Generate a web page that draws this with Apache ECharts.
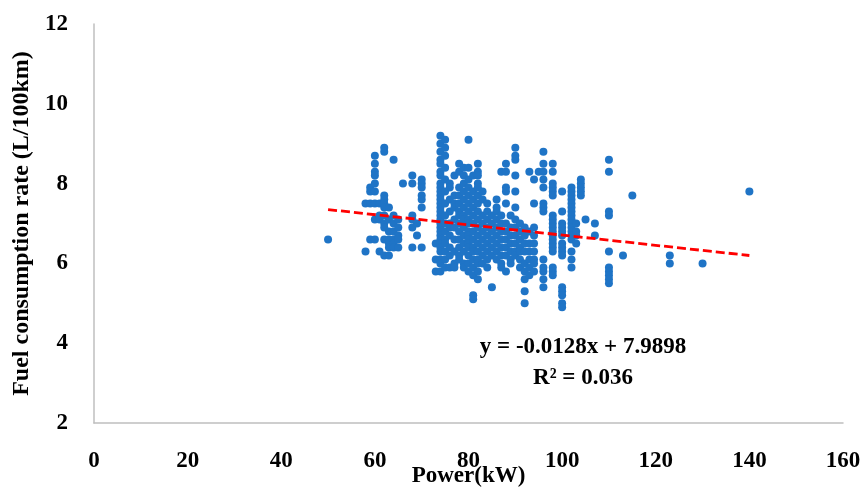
<!DOCTYPE html>
<html>
<head>
<meta charset="utf-8">
<script src="https://cdn.jsdelivr.net/npm/echarts@6/dist/echarts.min.js"></script>
<style>html,body{margin:0;padding:0;background:#fff}#chart{width:862px;height:487px}</style>
</head>
<body>
<div id="chart"></div>
<script>
// Power (kW) levels and the fuel consumption rates (L/100km) observed at each
const powerLevels = [50, 58, 59, 60, 61, 62, 63, 64, 65, 66, 68, 69, 70, 73, 74, 75, 76, 77, 78, 79, 80, 81, 82, 83, 84, 85, 86, 87, 88, 89, 90, 91, 92, 93, 94, 95, 96, 98, 100, 102, 103, 104, 105, 107, 110, 113, 115, 123, 130, 140];
const fuelByPower = [
  [6.6],
  [7.5, 6.3],
  [7.9, 7.8, 7.5, 6.6],
  [8.7, 8.5, 8.3, 8.2, 8.0, 7.8, 7.5, 7.1, 6.6],
  [7.5, 7.2, 7.1, 6.3],
  [8.9, 8.8, 7.7, 7.6, 7.5, 7.4, 7.2, 7.0, 6.9, 6.6, 6.2],
  [7.4, 7.1, 6.8, 6.6, 6.5, 6.4, 6.2],
  [8.6, 7.2, 7.0, 6.8, 6.6, 6.5, 6.4],
  [7.1, 6.9, 6.7, 6.6, 6.4],
  [8.0],
  [8.2, 8.0, 7.2, 7.1, 6.9, 6.4],
  [7.0, 6.7],
  [8.1, 8.0, 7.9, 7.7, 7.6, 7.4, 6.4],
  [6.5, 6.1, 5.8],
  [9.2, 9.0, 8.8, 8.6, 8.5, 8.3, 8.2, 8.0, 7.9, 7.8, 7.7, 7.6, 7.5, 7.4, 7.3, 7.2, 7.1, 7.0, 6.9, 6.8, 6.7, 6.6, 6.5, 6.4, 6.3, 6.1, 6.0, 5.8],
  [9.1, 8.9, 8.7, 8.4, 8.1, 7.8, 7.5, 7.2, 7.0, 6.8, 6.6, 6.5, 6.3, 6.1, 5.9],
  [8.0, 7.9, 7.6, 7.3, 7.0, 6.9, 6.7, 6.4, 6.2, 5.9],
  [8.2, 7.7, 7.5, 7.4, 7.1, 6.9, 6.6, 6.3, 6.0, 5.9],
  [8.5, 8.3, 7.9, 7.7, 7.5, 7.3, 7.2, 7.0, 6.8, 6.6, 6.4, 6.2, 6.1],
  [8.4, 8.2, 8.0, 7.8, 7.6, 7.4, 7.2, 7.1, 6.9, 6.7, 6.5, 6.3, 6.0, 5.9],
  [9.1, 8.4, 8.1, 7.9, 7.7, 7.5, 7.3, 7.1, 7.0, 6.8, 6.7, 6.6, 6.5, 6.4, 6.2, 6.0, 5.8],
  [8.2, 7.8, 7.6, 7.4, 7.2, 7.0, 6.8, 6.6, 6.4, 6.3, 6.1, 5.9, 5.7, 5.2, 5.1],
  [8.5, 8.3, 8.2, 8.0, 7.9, 7.7, 7.5, 7.3, 7.1, 6.9, 6.7, 6.5, 6.3, 6.1, 6.0, 5.8, 5.6],
  [7.8, 7.6, 7.2, 7.0, 6.8, 6.6, 6.4, 6.2, 6.0],
  [7.5, 7.3, 7.1, 6.9, 6.7, 6.5, 6.3, 6.1, 5.9],
  [7.2, 7.0, 6.8, 6.6, 6.4, 6.2, 5.4],
  [7.6, 7.4, 7.3, 7.1, 6.9, 6.7, 6.5, 6.3, 6.1],
  [8.3, 7.2, 7.0, 6.8, 6.6, 6.4, 6.2, 6.0, 5.9],
  [8.5, 8.3, 7.9, 7.8, 7.5, 7.0, 6.8, 6.6, 6.4, 6.2, 5.8],
  [7.2, 6.9, 6.7, 6.5, 6.3, 6.1, 6.0],
  [8.9, 8.7, 8.6, 8.2, 7.8, 7.4, 7.1, 6.9, 6.7, 6.5, 6.3, 6.2],
  [7.0, 6.8, 6.6, 6.4, 6.3, 6.1, 5.9],
  [6.9, 6.7, 6.5, 6.3, 6.0, 5.8, 5.6, 5.3, 5.0],
  [8.3, 6.8, 6.5, 6.3, 6.1, 5.9, 5.7],
  [8.1, 7.5, 6.9, 6.7, 6.5, 6.3, 6.1, 6.0, 5.8],
  [8.3],
  [8.8, 8.5, 8.3, 8.1, 7.9, 7.5, 7.4, 7.3, 6.1, 5.9, 5.8, 5.6, 5.4],
  [8.5, 8.3, 8.0, 7.9, 7.8, 7.7, 7.2, 7.1, 7.0, 6.9, 6.8, 6.7, 6.6, 6.5, 6.4, 6.3, 5.9, 5.8, 5.7],
  [7.8, 7.3, 7.0, 6.9, 6.8, 6.7, 6.5, 6.4, 6.3, 6.2, 5.4, 5.3, 5.2, 5.0, 4.9],
  [7.9, 7.8, 7.7, 7.6, 7.5, 7.4, 7.3, 7.2, 7.1, 7.0, 6.9, 6.8, 6.7, 6.6, 6.3, 6.1, 5.9],
  [7.0, 6.8, 6.7, 6.5],
  [8.1, 8.0, 7.9, 7.8, 7.7],
  [7.1],
  [7.0, 6.7],
  [8.6, 8.3, 7.3, 7.2, 6.3, 5.9, 5.8, 5.7, 5.6, 5.5],
  [6.2],
  [7.7],
  [6.2, 6.0],
  [6.0],
  [7.8]
];
// Linear trend line (as printed on the chart)
const trendSlope = -0.0128;
const trendIntercept = 7.9898;
const trendRange = [50, 140];
const trendLabel = ['y = -0.0128x + 7.9898', 'R² = 0.036'];
const xTicks = {min: 0, max: 160, interval: 20};
const yTicks = {min: 2, max: 12, interval: 2};

const scatterData = [];
powerLevels.forEach((p, i) => fuelByPower[i].forEach(f => scatterData.push([p, f])));
const trendData = trendRange.map(x => [x, trendSlope * x + trendIntercept]);

const FONT = '"Liberation Serif", "DejaVu Serif", serif';
const chart = echarts.init(document.getElementById('chart'), null, {renderer: 'canvas'});
chart.setOption({
  animation: false,
  backgroundColor: '#fff',
  grid: {left: 94, right: 19, top: 24, bottom: 64, containLabel: false, outerBoundsMode: 'none'},
  xAxis: {
    type: 'value', min: xTicks.min, max: xTicks.max, interval: xTicks.interval,
    name: 'Power(kW)', nameLocation: 'middle', nameGap: 42, nameMoveOverlap: false,
    nameTextStyle: {fontFamily: FONT, fontWeight: 'bold', fontSize: 23, color: '#000'},
    axisLine: {show: true, lineStyle: {color: '#bfbfbf', width: 1.5}},
    axisTick: {show: false},
    splitLine: {show: false},
    axisLabel: {fontFamily: FONT, fontWeight: 'bold', fontSize: 23, color: '#000', margin: 27}
  },
  yAxis: {
    type: 'value', min: yTicks.min, max: yTicks.max, interval: yTicks.interval,
    name: 'Fuel consumption rate (L/100km)', nameLocation: 'middle', nameGap: 60, nameRotate: 90, nameMoveOverlap: false,
    nameTextStyle: {fontFamily: FONT, fontWeight: 'bold', fontSize: 24, color: '#000'},
    axisLine: {show: true, lineStyle: {color: '#bfbfbf', width: 1.5}},
    axisTick: {show: false},
    splitLine: {show: false},
    axisLabel: {fontFamily: FONT, fontWeight: 'bold', fontSize: 23, color: '#000', margin: 26}
  },
  series: [
    {
      type: 'scatter', data: scatterData, symbolSize: 8,
      itemStyle: {color: '#1f74c6', opacity: 1}
    },
    {
      type: 'line', data: trendData, symbol: 'none',
      lineStyle: {color: '#ff0000', width: 2.8, type: [9, 4]},
      z: 3
    }
  ],
  graphic: [
    {type: 'text', style: {text: trendLabel[0], x: 583, y: 347, fontFamily: FONT, fontWeight: 'bold', fontSize: 23, fill: '#000', align: 'center', verticalAlign: 'middle'}},
    {type: 'text', style: {text: trendLabel[1], x: 583, y: 378, fontFamily: FONT, fontWeight: 'bold', fontSize: 23, fill: '#000', align: 'center', verticalAlign: 'middle'}}
  ]
});
</script>
</body>
</html>
